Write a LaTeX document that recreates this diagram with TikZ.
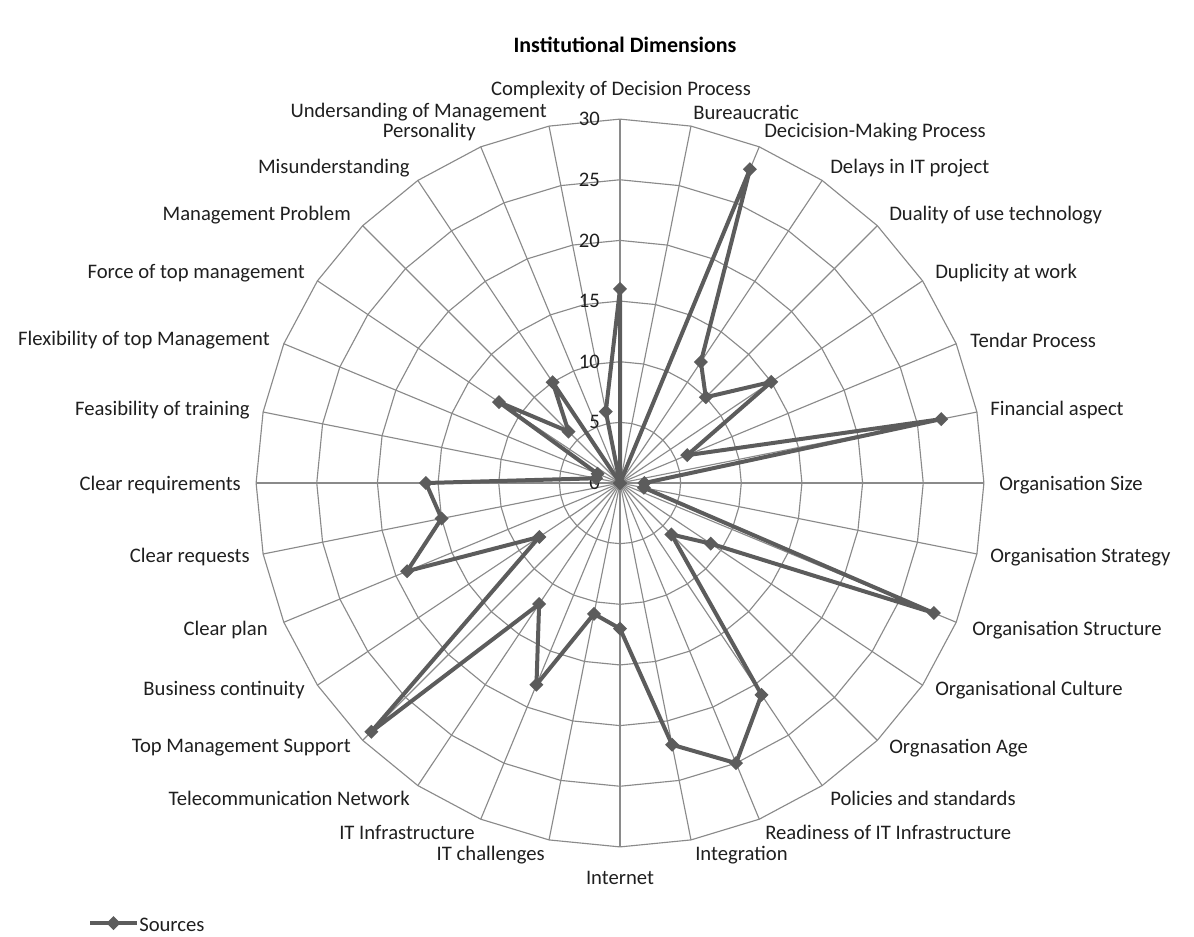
\documentclass[tikz,border=0pt]{standalone}
\usepackage{fontspec}
\setmainfont{Carlito}
\usetikzlibrary{calc}
\definecolor{gridgray}{RGB}{138,138,138}
\definecolor{seriesgray}{RGB}{92,92,92}
\begin{document}
\begin{tikzpicture}[x=0.75pt,y=-0.75pt,
  gridline/.style={draw=gridgray,line width=0.85pt},
  series/.style={draw=seriesgray,line width=3pt,line join=round},
  marker/.style={fill=seriesgray,draw=none},
  catlabel/.style={font=\fontsize{15.5}{18}\selectfont,inner sep=0pt,text=black!88},
  ticklabel/.style={font=\fontsize{15.5}{18}\selectfont,inner sep=0pt,anchor=east,text=black!88},
]
\useasboundingbox (0,0) rectangle (1194,936);
\coordinate (c) at (620,483);
\def\unitpx{12.13}

% concentric 32-gons every 5 units
\foreach \v in {5,10,...,30}{
  \pgfmathsetmacro\rr{\v*\unitpx}
  \draw[gridline] ($(c)+(-90:\rr)$)
    \foreach \k in {1,...,31}{ -- ($(c)+(\k*11.25-90:\rr)$) } -- cycle;
}
% spokes
\foreach \k in {0,...,31}{
  \coordinate (s\k) at ($(c)+(\k*11.25-90:30*\unitpx)$);
  \draw[gridline] (c) -- (s\k);
}

% value scale
\foreach \v in {0,5,...,30}{
  \node[ticklabel] (t\v) at ($(c)+(-20,-\v*\unitpx)$) {\v};
}

% series values
\foreach \val [count=\k from 0] in {16,0,28,12,10,15,6,27,2,2,28,9,6,21,25,22,12,11,18,12,29,8,19,15,16,2,2,12,6,10,0,6}{
  \coordinate (p\k) at ($(c)+(\k*11.25-90:\val*\unitpx)$);
}
\draw[series] (p0) -- (p1) -- (p2) -- (p3) -- (p4) -- (p5) -- (p6) -- (p7) -- (p8)
  -- (p9) -- (p10) -- (p11) -- (p12) -- (p13) -- (p14) -- (p15) -- (p16) -- (p17)
  -- (p18) -- (p19) -- (p20) -- (p21) -- (p22) -- (p23) -- (p24) -- (p25) -- (p26)
  -- (p27) -- (p28) -- (p29) -- (p30) -- (p31) -- cycle;
\foreach \k in {0,...,31}{
  \fill[marker] (p\k) +(0,-7) -- +(7,0) -- +(0,7) -- +(-7,0) -- cycle;
}

% category labels
\node[catlabel,anchor=center] (l0) at (621,90) {Complexity of Decision Process};
\node[catlabel,anchor=west] (l1) at (693,112) {Bureaucratic};
\node[catlabel,anchor=west] (l2) at (764,132) {Decicision-Making Process};
\node[catlabel,anchor=west] (l3) at (830,168) {Delays in IT project};
\node[catlabel,anchor=west] (l4) at (889,215) {Duality of use technology};
\node[catlabel,anchor=west] (l5) at (935,273) {Duplicity at work};
\node[catlabel,anchor=west] (l6) at (970,340) {Tendar Process};
\node[catlabel,anchor=west] (l7) at (990,410) {Financial aspect};
\node[catlabel,anchor=west] (l8) at (999,485) {Organisation Size};
\node[catlabel,anchor=west] (l9) at (990,557) {Organisation Strategy};
\node[catlabel,anchor=west] (l10) at (972,630) {Organisation Structure};
\node[catlabel,anchor=west] (l11) at (935,690) {Organisational Culture};
\node[catlabel,anchor=west] (l12) at (889,748) {Orgnasation Age};
\node[catlabel,anchor=west] (l13) at (830,798) {Policies and standards};
\node[catlabel,anchor=west] (l14) at (765,832) {Readiness of IT Infrastructure};
\node[catlabel,anchor=west] (l15) at (695,855) {Integration};
\node[catlabel,anchor=center] (l16) at (620,878) {Internet};
\node[catlabel,anchor=east] (l17) at (545,855) {IT challenges};
\node[catlabel,anchor=east] (l18) at (475,832) {IT Infrastructure};
\node[catlabel,anchor=east] (l19) at (410,798) {Telecommunication Network};
\node[catlabel,anchor=east] (l20) at (351,748) {Top Management Support};
\node[catlabel,anchor=east] (l21) at (305,690) {Business continuity};
\node[catlabel,anchor=east] (l22) at (268,630) {Clear plan};
\node[catlabel,anchor=east] (l23) at (250,557) {Clear requests};
\node[catlabel,anchor=east] (l24) at (241,485) {Clear requirements};
\node[catlabel,anchor=east] (l25) at (250,410) {Feasibility of training};
\node[catlabel,anchor=east] (l26) at (270,340) {Flexibility of top Management};
\node[catlabel,anchor=east] (l27) at (305,273) {Force of top management};
\node[catlabel,anchor=east] (l28) at (351,215) {Management Problem};
\node[catlabel,anchor=east] (l29) at (410,168) {Misunderstanding};
\node[catlabel,anchor=east] (l30) at (476,132) {Personality};
\node[catlabel,anchor=east] (l31) at (547,112) {Undersanding of Management};

% title
\node[font=\bfseries\fontsize{16.5}{20}\selectfont,inner sep=0pt] (title) at (625,45) {Institutional Dimensions};

% legend
\coordinate (la) at (90,923);
\coordinate (lb) at (137,923);
\coordinate (lm) at (113.5,923);
\draw[series] (la) -- (lb);
\fill[marker] (lm) +(0,-7) -- +(7,0) -- +(0,7) -- +(-7,0) -- cycle;
\node[catlabel,anchor=west] (leg) at (139,925) {Sources};
\end{tikzpicture}
\end{document}
